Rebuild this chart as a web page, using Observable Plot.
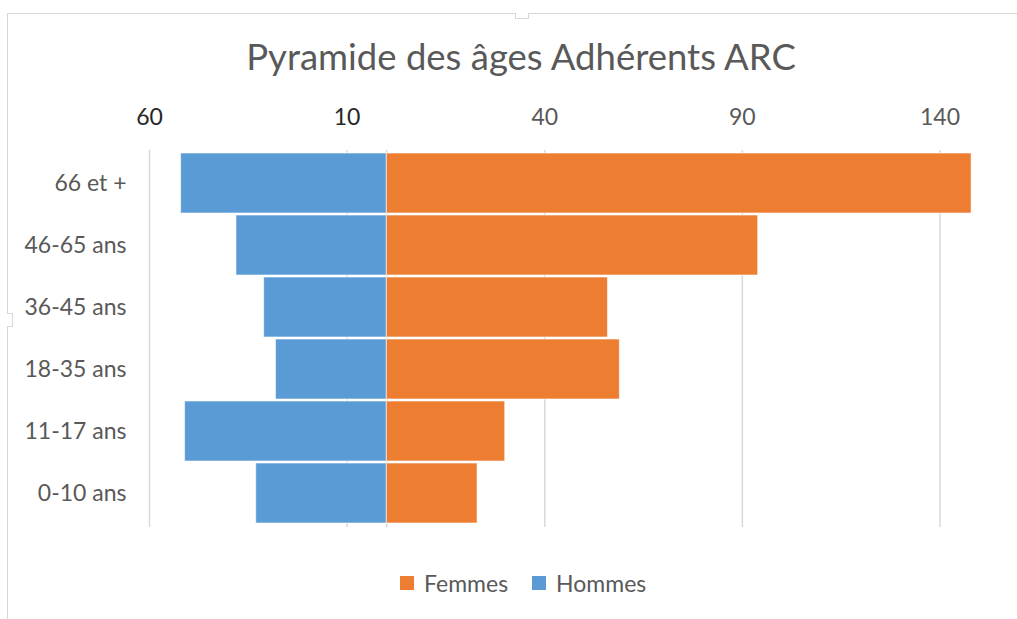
<!DOCTYPE html>
<html><head><meta charset="utf-8">
<script src="https://cdn.jsdelivr.net/npm/d3@7"></script>
<script src="https://cdn.jsdelivr.net/npm/@observablehq/plot@0.6"></script>
<style>
body{margin:0;background:#fff;}
#wrap{position:relative;width:1017px;height:619px;overflow:hidden;font-family:Lato,"Open Sans",sans-serif;background:#fff;}
#frame{position:absolute;left:7px;top:13px;width:1100px;height:700px;border:1.5px solid #d6d6d6;box-sizing:border-box;}
.notchT{position:absolute;left:515px;top:13px;width:14px;height:6px;border:1.5px solid #d6d6d6;border-top:none;background:#fff;box-sizing:border-box;}
.notchL{position:absolute;left:7px;top:313px;width:6px;height:14px;border:1.5px solid #d6d6d6;border-left:none;background:#fff;box-sizing:border-box;}
#title{position:absolute;left:0;width:1042px;top:38px;text-align:center;font-size:36.5px;color:#595959;line-height:1;white-space:nowrap;}
#chart{position:absolute;left:0;top:90px;}
#legend{position:absolute;top:570px;left:400px;display:flex;align-items:center;font-size:23px;color:#595959;height:26px;}
#legend .sw{width:14px;height:14px;display:inline-block;}
</style></head>
<body>
<div id="wrap">
  <div id="title">Pyramide des âges Adhérents ARC</div>
  <div id="chart"></div>
  <div id="legend"></div>
  <div id="frame"></div>
  <div class="notchT"></div>
  <div class="notchL"></div>
</div>
<script>
const categories = ["66 et +", "46-65 ans", "36-45 ans", "18-35 ans", "11-17 ans", "0-10 ans"];
const femmes = [148, 94, 56, 59, 30, 23];
const hommes = [52, 38, 31, 28, 51, 33];
const series = ["Femmes", "Hommes"];
const colors = ["#ED7D31", "#5B9BD5"];
const ticksNeg = [-60, -10];
const ticksPos = [40, 90, 140];
const allTicks = ticksNeg.concat(ticksPos);

const data = categories.flatMap((c, i) => [
  {age: c, sexe: "Femmes", v: femmes[i]},
  {age: c, sexe: "Hommes", v: -hommes[i]}
]);

const chart = Plot.plot({
  width: 1017,
  height: 440,
  marginLeft: 149,
  marginRight: 38,
  marginTop: 60,
  marginBottom: 3,
  x: {domain: [-60, 150], label: null},
  y: {domain: categories, padding: 0.03, label: null},
  color: {domain: series, range: colors},
  style: {fontFamily: "Lato, 'Open Sans', sans-serif", fontSize: "23px", color: "#595959", background: "transparent"},
  marks: [
    Plot.gridX(allTicks, {stroke: "#d9d9d9", strokeOpacity: 1, strokeWidth: 1.5}),
    Plot.ruleX([0], {stroke: "#d9d9d9", strokeWidth: 1.5}),
    Plot.barX(data, {x: "v", y: "age", fill: "sexe", stroke: "white", strokeOpacity: 0.6, strokeWidth: 1}),
    Plot.axisX(ticksNeg, {anchor: "top", label: null, tickSize: 0, tickPadding: 26, tickFormat: d => Math.abs(d), fill: "#262626", fontSize: 23}),
    Plot.axisX(ticksPos, {anchor: "top", label: null, tickSize: 0, tickPadding: 26, tickFormat: d => Math.abs(d), fill: "#595959", fontSize: 23}),
    Plot.axisY({label: null, tickSize: 0, tickPadding: 23, fill: "#595959", fontSize: 23})
  ]
});
document.getElementById("chart").appendChild(chart);

const legend = document.getElementById("legend");
series.forEach((s, i) => {
  const sw = document.createElement("span");
  sw.className = "sw";
  sw.style.background = colors[i];
  sw.style.marginRight = "10px";
  if (i > 0) sw.style.marginLeft = "24px";
  const t = document.createElement("span");
  t.textContent = s;
  legend.appendChild(sw);
  legend.appendChild(t);
});
</script>
</body></html>
